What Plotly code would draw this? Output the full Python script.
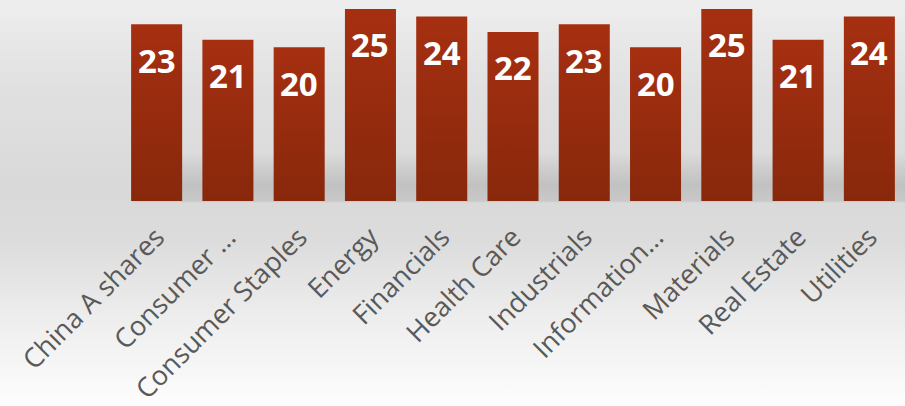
import plotly.graph_objects as go

# Sector values shown on the bars
sectors = [
    "China A shares", "Consumer …", "Consumer Staples", "Energy", "Financials",
    "Health Care", "Industrials", "Information…", "Materials", "Real Estate", "Utilities",
]
values = [23, 21, 20, 25, 24, 22, 23, 20, 25, 21, 24]

BAR_TOP = "#A62F11"
BAR_BOTTOM = "#88280B"
LABEL_GREY = "#595959"

fig = go.Figure()
fig.add_trace(go.Bar(
    x=sectors,
    y=values,
    marker=dict(color="#982C0E", line=dict(width=0)),
    hoverinfo="x+y",
))

# White value labels sitting inside the top of each bar
for name, v in zip(sectors, values):
    fig.add_annotation(
        x=name, y=v, text=str(v), showarrow=False,
        yanchor="middle", yshift=-36,
        font=dict(family="Open Sans", size=33, color="white", weight="bold"),
    )

fig.update_layout(
    width=905, height=406,
    margin=dict(l=121, r=0, t=0, b=203),
    paper_bgcolor="rgba(0,0,0,0)",
    plot_bgcolor="rgba(0,0,0,0)",
    bargap=0.284,
    showlegend=False,
    xaxis=dict(
        range=[-0.5, 10.5],
        tickangle=-45,
        tickfont=dict(family="Open Sans", size=27, color=LABEL_GREY),
        showgrid=False, zeroline=False, showline=False, ticks="",
        ticklabelstandoff=14,
    ),
    yaxis=dict(
        range=[0, 26.16],
        visible=False,
        showgrid=False, zeroline=False,
    ),
)

# Soft grey page background with a shadow band under the bars,
# and a vertical gradient fill on every bar.
post = """
var gd = document.getElementById('{plot_id}');
gd.style.background =
  'linear-gradient(to bottom, rgba(0,0,0,0) 152px, rgba(0,0,0,0.06) 168px, rgba(0,0,0,0.11) 185px, rgba(0,0,0,0.08) 201px, rgba(0,0,0,0) 203px) 132px 0 / 773px 406px no-repeat,' +
  'linear-gradient(to bottom, #eeeeee 0px, #e0e0e0 90px, #d9d9d9 190px, #dcdcdc 240px, #eeeeee 320px, #fdfdfd 406px)';
var ns = 'http://www.w3.org/2000/svg';
var svg = gd.querySelector('svg.main-svg');
var defs = svg.querySelector('defs') || svg.insertBefore(document.createElementNS(ns, 'defs'), svg.firstChild);
var lg = document.createElementNS(ns, 'linearGradient');
lg.setAttribute('id', 'barfill');
lg.setAttribute('x1', '0'); lg.setAttribute('y1', '0');
lg.setAttribute('x2', '0'); lg.setAttribute('y2', '1');
[['0', '%s'], ['1', '%s']].forEach(function (s) {
  var st = document.createElementNS(ns, 'stop');
  st.setAttribute('offset', s[0]);
  st.setAttribute('stop-color', s[1]);
  lg.appendChild(st);
});
defs.appendChild(lg);
gd.querySelectorAll('.bars .point path').forEach(function (p) {
  p.style.fill = 'url(#barfill)';
});
""" % (BAR_TOP, BAR_BOTTOM)

fig.write_html("out.html", post_script=post)
